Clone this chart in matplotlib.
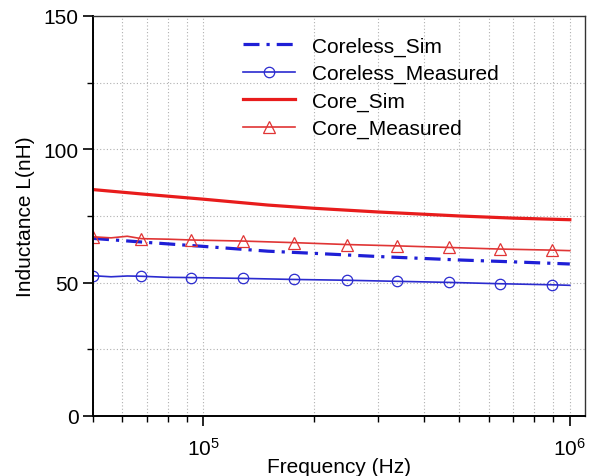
import matplotlib
matplotlib.use("Agg")
import matplotlib.pyplot as plt
from matplotlib.ticker import LogLocator, FixedLocator, NullFormatter, LogFormatterMathtext

plt.rcParams['font.family'] = ['Liberation Sans', 'DejaVu Sans']
plt.rcParams['mathtext.fontset'] = 'custom'
plt.rcParams['mathtext.rm'] = 'Liberation Sans'
plt.rcParams['mathtext.it'] = 'Liberation Sans'

# Simulated curves
sim_freq = [5e4, 7e4, 1e5, 1.5e5, 2e5, 3e5, 5e5, 7e5, 1e6]
coreless_sim = [66.6, 65.1, 63.6, 61.8, 61.0, 59.8, 58.5, 57.8, 57.0]
core_sim = [84.9, 83.1, 81.3, 79.1, 77.9, 76.5, 75.0, 74.2, 73.6]

# Measured curves
meas_freq = [5e4, 5.6e4, 6.2e4, 6.78e4, 8e4, 9.27e4, 1.28e5, 1.77e5, 2.46e5,
             3.37e5, 4.67e5, 6.44e5, 8.93e5, 1e6]
coreless_meas = [52.6, 52.2, 52.5, 52.4, 52.0, 51.9, 51.6, 51.2, 50.9,
                 50.5, 50.1, 49.6, 49.2, 49.0]
core_meas = [67.2, 66.8, 67.4, 66.5, 66.3, 66.0, 65.6, 65.0, 64.3,
             63.8, 63.2, 62.6, 62.2, 62.0]
marker_idx = [0, 3, 5, 6, 7, 8, 9, 10, 11, 12]

y_major = [0, 50, 100, 150]
y_minor = [25, 75, 125]

fig = plt.figure(figsize=(5.99, 4.77), dpi=100)
ax = fig.add_axes([0.1553, 0.1258, 0.8213, 0.8386])

blue = '#1f1fd6'
red = '#e81c1c'

ax.plot(sim_freq, coreless_sim, color=blue, lw=2.3, ls=(0, (5, 2.2, 1, 2.2)),
        label='Coreless_Sim')
ax.plot(meas_freq, coreless_meas, color='#2b2bcf', lw=1.2, marker='o',
        markersize=7.5, markerfacecolor='none', markeredgewidth=0.9,
        markevery=marker_idx, label='Coreless_Measured')
ax.plot(sim_freq, core_sim, color=red, lw=2.3, label='Core_Sim')
ax.plot(meas_freq, core_meas, color='#e03535', lw=1.2, marker='^',
        markersize=8, markerfacecolor='none', markeredgewidth=0.9,
        markevery=marker_idx, label='Core_Measured')

ax.set_xscale('log')
ax.set_xlim(5e4, 1.1e6)
ax.set_ylim(0, 150)
ax.yaxis.set_major_locator(FixedLocator(y_major))
ax.yaxis.set_minor_locator(FixedLocator(y_minor))
ax.xaxis.set_major_locator(LogLocator(base=10, numticks=10))
ax.xaxis.set_major_formatter(LogFormatterMathtext())
ax.xaxis.set_minor_locator(LogLocator(base=10, subs=range(2, 10), numticks=20))
ax.xaxis.set_minor_formatter(NullFormatter())

ax.grid(True, which='both', color='#b0b0b0', ls=(0, (1, 2)), lw=0.8)
ax.set_axisbelow(True)

ax.tick_params(which='major', direction='out', length=7, width=1.2, labelsize=15, colors='black')
ax.tick_params(which='minor', direction='out', length=4, width=1.0)
ax.tick_params(axis='x', which='major', pad=8)
for side in ['left', 'bottom']:
    ax.spines[side].set_linewidth(1.4)
for side in ['top', 'right']:
    ax.spines[side].set_linewidth(1.0)
    ax.spines[side].set_color('#333333')

ax.set_xlabel('Frequency (Hz)', fontsize=15, labelpad=-1)
ax.set_ylabel('Inductance L(nH)', fontsize=15, labelpad=6)

ax.legend(loc='upper left', bbox_to_anchor=(0.305, 0.948), frameon=False,
          fontsize=15, handlelength=2.5, handletextpad=0.8, labelspacing=0.39,
          borderpad=0, borderaxespad=0)

fig.savefig('out.png', dpi=100)
